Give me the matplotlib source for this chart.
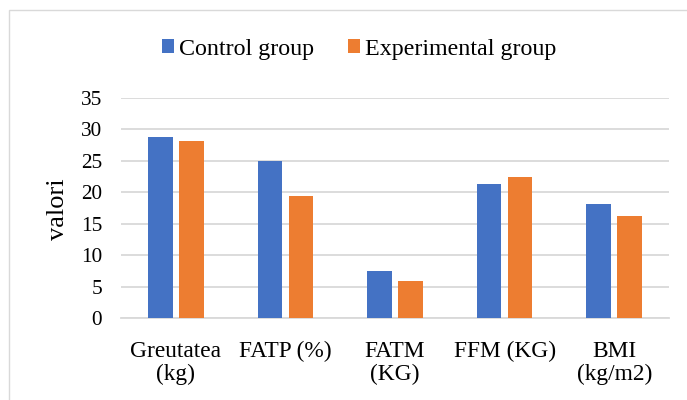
import matplotlib
matplotlib.use("Agg")
import matplotlib.pyplot as plt
from matplotlib.patches import Rectangle
import numpy as np

categories = ["Greutatea\n(kg)", "FATP (%)", "FATM\n(KG)", "FFM (KG)", "BMI\n(kg/m2)"]
control = [28.8, 25.0, 7.5, 21.3, 18.1]
experimental = [28.2, 19.4, 5.9, 22.4, 16.2]
series_names = ["Control group", "Experimental group"]
yticks = [0, 5, 10, 15, 20, 25, 30, 35]

plt.rcParams['font.family'] = ['Liberation Serif', 'DejaVu Serif']

fig = plt.figure(figsize=(6.87, 4.0), dpi=100)
fig.patches.append(Rectangle((9/687, -0.1), 1.0, (400-10)/400 + 0.1, transform=fig.transFigure,
                             fill=False, edgecolor='#d9d9d9', linewidth=1.0))
ax = fig.add_axes([121/687, (400-318.3)/400, (669-121)/687, (318.3-97.7)/400])

x = np.arange(len(categories))
w = 0.225
off = 0.142
b1 = ax.bar(x - off, control, w, color='#4472C4', label=series_names[0], zorder=3)
b2 = ax.bar(x + off, experimental, w, color='#ED7D31', label=series_names[1], zorder=3)

ax.set_xlim(-0.5, len(categories) - 0.5)
ax.set_ylim(0, 35)
ax.set_yticks(yticks)
ax.set_yticklabels([str(t) for t in yticks], fontsize=15.3)
ax.yaxis.grid(True, color='#d9d9d9', linewidth=1.3, zorder=0)
ax.tick_params(axis='y', length=0, pad=13.5)
ax.tick_params(axis='x', length=0, pad=16)
ax.set_xticks(x)
ax.set_xticklabels(categories, fontsize=16.8, linespacing=1.12)
for sp in ['top', 'right', 'left']:
    ax.spines[sp].set_visible(False)
ax.spines['bottom'].set_color('#d9d9d9')
ax.spines['bottom'].set_linewidth(1.3)

fig.text(58.3/687, (400-209.5)/400, "valori", rotation=90, fontsize=19, ha='center', va='center')

fig.legend(handles=[b1, b2], labels=series_names, loc='center', bbox_to_anchor=(359/687, (400-49.5)/400),
           ncol=2, frameon=False, fontsize=17.3, handlelength=0.5, handleheight=0.52,
           handletextpad=0.2, columnspacing=1.4)

fig.savefig("out.png", dpi=100)
